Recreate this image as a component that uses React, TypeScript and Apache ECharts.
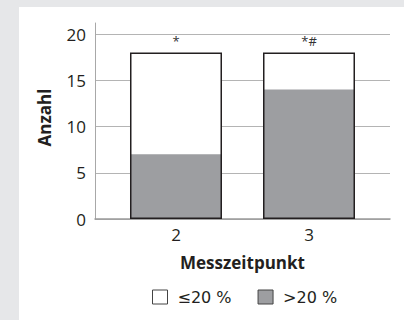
import React, { useEffect, useRef } from "react";
import * as echarts from "echarts";

const categories = [2, 3];
const above20 = [7, 14];
const atMost20 = [11, 4];
const annotations = ["*", "*#"];
const yTicks = [0, 5, 10, 15, 20];
const legendNames = ["≤20 %", ">20 %"];

const FONT = "'Open Sans', 'Noto Sans', sans-serif";
const TEXT = "#231f20";

export default function App() {
  const ref = useRef<HTMLDivElement>(null);
  useEffect(() => {
    document.body.style.margin = "0";
    const chart = echarts.init(ref.current!, null, { renderer: "svg" });
    const totals = categories.map((_, i) => above20[i] + atMost20[i]);
    chart.setOption({
      animation: false,
      backgroundColor: "#ffffff",
      textStyle: { fontFamily: FONT, color: TEXT },
      grid: [
        { left: 76, right: 14, top: 27, bottom: 101 },
        { left: 76, right: 14, top: 16, bottom: 101 },
      ],
      legend: {
        bottom: 10,
        left: 128,
        icon: "rect",
        itemWidth: 15,
        itemHeight: 14,
        itemGap: 26,
        textStyle: {
          fontFamily: "'DejaVu Sans', 'Open Sans', sans-serif",
          fontSize: 16,
          color: TEXT,
          padding: [0, 0, 0, 5],
        },
        data: [
          { name: legendNames[0], itemStyle: { color: "#ffffff", borderColor: "#444", borderWidth: 1 } },
          { name: legendNames[1], itemStyle: { color: "#9d9ea1", borderColor: "#444", borderWidth: 1 } },
        ],
      },
      xAxis: [
        {
          type: "value",
          gridIndex: 0,
          min: 1.391,
          max: 3.609,
          name: "Messzeitpunkt",
          nameLocation: "middle",
          nameGap: 35,
          nameTextStyle: { fontFamily: FONT, fontSize: 17, fontWeight: "bold", color: TEXT },
          axisLine: { show: true, lineStyle: { color: "#9a9a9a", width: 1.5 } },
          axisTick: { show: false },
          splitLine: { show: false },
          axisLabel: {
            customValues: categories,
            fontFamily: FONT,
            fontSize: 17,
            color: TEXT,
            margin: 7,
            formatter: (v: number) => String(v),
          },
        },
        { type: "value", gridIndex: 1, show: false },
      ],
      yAxis: [
        {
          type: "value",
          gridIndex: 0,
          min: yTicks[0],
          max: yTicks[yTicks.length - 1],
          interval: 5,
          name: "Anzahl",
          nameLocation: "middle",
          nameGap: 42,
          nameTextStyle: {
            fontFamily: FONT,
            fontSize: 17,
            fontWeight: "bold",
            color: TEXT,
            padding: [0, 0, 0, 18],
          },
          axisLine: { show: false },
          axisTick: { show: false },
          splitLine: { show: true, lineStyle: { color: "#b4b4b4", width: 1 } },
          axisLabel: { fontFamily: FONT, fontSize: 17, color: TEXT, margin: 9 },
        },
        {
          type: "value",
          gridIndex: 1,
          axisLine: { show: true, onZero: false, lineStyle: { color: "#a8a8a8", width: 1 } },
          axisTick: { show: false },
          axisLabel: { show: false },
          splitLine: { show: false },
        },
      ],
      series: [
        {
          name: legendNames[0],
          type: "bar",
          barWidth: 92,
          barGap: "-100%",
          z: 1,
          itemStyle: { color: "#ffffff" },
          data: categories.map((c, i) => [c, totals[i]]),
        },
        {
          name: legendNames[1],
          type: "bar",
          barWidth: 92,
          barGap: "-100%",
          z: 2,
          itemStyle: { color: "#9d9ea1" },
          data: categories.map((c, i) => [c, above20[i]]),
        },
        {
          name: "outline",
          type: "bar",
          barWidth: 92,
          barGap: "-100%",
          z: 3,
          itemStyle: { color: "rgba(0,0,0,0)", borderColor: "#231f20", borderWidth: 1.5 },
          label: {
            show: true,
            position: "top",
            distance: 5,
            fontFamily: FONT,
            fontSize: 13,
            color: "#333",
            formatter: (p: any) => annotations[p.dataIndex],
          },
          data: categories.map((c, i) => [c, totals[i]]),
        },
      ],
    });
    return () => chart.dispose();
  }, []);
  return (
    <div style={{ position: "fixed", left: 0, top: 0, width: 404, height: 320, background: "#e6e7e9" }}>
      <div ref={ref} style={{ position: "absolute", left: 19, top: 7, width: 385, height: 313 }} />
    </div>
  );
}
